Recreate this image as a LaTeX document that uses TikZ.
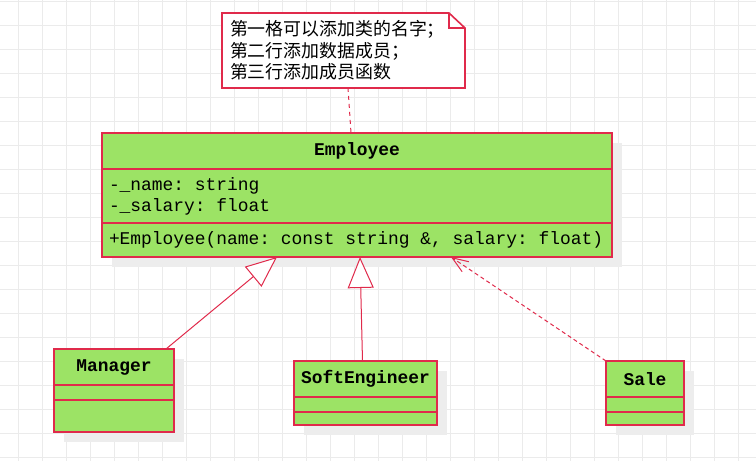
\documentclass[tikz,border=0pt]{standalone}
\usepackage{fontspec}
\usetikzlibrary{positioning,arrows.meta,shadows,backgrounds}
\newfontfamily\umlmono{Liberation Mono}
\newfontfamily\notecjk{Noto Sans CJK SC}
\definecolor{umlred}{HTML}{E02A4B}
\definecolor{umlgreen}{HTML}{9CE365}
\definecolor{gridgray}{HTML}{EBEBEB}
\frenchspacing

\tikzset{
  classpart/.style={draw=umlred, fill=umlgreen, line width=1.6pt, outer sep=0pt, inner sep=0pt,
    drop shadow={shadow xshift=10pt, shadow yshift=-10pt, fill=black!7, opacity=1},
    font=\umlmono\fontsize{17.9}{21}\selectfont},
  classname/.style={classpart, font=\umlmono\bfseries\fontsize{17.9}{21}\selectfont, minimum height=36pt},
  classbody/.style={classpart, align=flush left, inner xsep=7pt},
  notebox/.style={outer sep=0pt, inner xsep=8pt, inner ysep=0pt, minimum height=75pt,
    text width=227pt, align=flush left, font=\notecjk\fontsize{17.9}{21.5}\selectfont},
  noteborder/.style={draw=umlred, fill=white, line width=1.6pt, line join=miter},
  notelink/.style={draw=umlred, line width=1pt, dash pattern=on 4pt off 4pt},
  inherit/.style={draw=umlred, line width=1pt, -{Triangle[length=31pt,width=26pt,fill=white]}},
  realize/.style={draw=umlred, line width=1pt, dash pattern=on 4pt off 3pt,
    -{Straight Barb[length=16pt,width=12pt]}},
  gridline/.style={draw=gridgray, line width=1pt},
}

\begin{document}
\begin{tikzpicture}[x=1pt, y=-1pt]
\useasboundingbox (0,0) rectangle (756,461);
% background grid
\begin{pgfonlayer}{background}
\foreach \gx in {18,42,...,738} \draw[gridline] (\gx,0) -- (\gx,461);
\foreach \gy in {1,25,...,457} \draw[gridline] (0,\gy) -- (756,\gy);
\end{pgfonlayer}
% Note
\node[notebox] (note) at (343.5,50.5) {第一格可以添加类的名字；\\第二行添加数据成员；\\第三行添加成员函数};
\begin{pgfonlayer}{background}
\draw[noteborder] (note.north west) -- ([xshift=-16pt]note.north east) -- ([yshift=-15pt]note.north east)
  -- (note.south east) -- (note.south west) -- cycle;
\draw[noteborder, fill=none] ([xshift=-16pt]note.north east) |- ([yshift=-15pt]note.north east); % folded corner
\end{pgfonlayer}
% Employee class
\node[classname, minimum width=510pt] (emp) at (357,151) {Employee};
\node[classbody, text width=496pt, minimum height=54pt, below=0pt of emp] (empattr) {-\_name: string\\-\_salary: float};
\node[classbody, text width=496pt, minimum height=34pt, below=0pt of empattr] (empmeth) {+Employee(name: const string \&, salary: float)};
% Manager class
\node[classname, minimum width=120pt] (mgr) at (114,367) {Manager};
\node[classbody, minimum width=120pt, minimum height=15pt, below=0pt of mgr] (mgrattr) {};
\node[classbody, minimum width=120pt, minimum height=32pt, below=0pt of mgrattr] (mgrmeth) {};
% SoftEngineer class
\node[classname, minimum width=143pt] (soft) at (365.5,379) {SoftEngineer};
\node[classbody, minimum width=143pt, minimum height=15pt, below=0pt of soft] (softattr) {};
\node[classbody, minimum width=143pt, minimum height=13pt, below=0pt of softattr] (softmeth) {};
% Sale class
\node[classname, minimum width=78pt] (sale) at (645,379) {Sale};
\node[classbody, minimum width=78pt, minimum height=15pt, below=0pt of sale] (saleattr) {};
\node[classbody, minimum width=78pt, minimum height=13pt, below=0pt of saleattr] (salemeth) {};
% Connectors
\draw[notelink] ([xshift=4.5pt]note.south) -- ([xshift=-6pt]emp.north); % note link
\draw[inherit] ([xshift=-8pt]mgr.north east) -- ([xshift=175pt]empmeth.south west); % Manager inherits
\draw[inherit] ([xshift=-3pt]soft.north) -- ([xshift=3pt]empmeth.south); % SoftEngineer inherits
\draw[realize] (sale.north west) -- ([xshift=349pt]empmeth.south west); % Sale depends
\end{tikzpicture}
\end{document}
